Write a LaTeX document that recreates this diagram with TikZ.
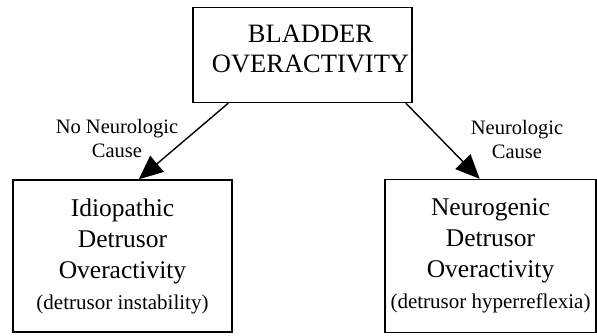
\documentclass[tikz,border=0pt]{standalone}
\usepackage{fontspec}
\setmainfont{Liberation Serif}
\usetikzlibrary{arrows.meta}
\begin{document}
\begin{tikzpicture}[>={Triangle[length=24pt,width=21pt]},x=1pt,y=1pt,line width=1.4pt,
		box/.style={draw,rectangle,align=center,inner sep=0pt},
		lbl/.style={align=center,font=\fontsize{20.5}{24}\selectfont}]
		\useasboundingbox (0,0) rectangle (597,335);
		\node [box,minimum width=219,minimum height=95] (Bladder) at (302.5,280) {};
		\node [align=center,font=\fontsize{26.5}{30}\selectfont]
			(BladderText) at ([shift={(8,6)}]Bladder.center) {BLADDER\\OVERACTIVITY};
		\node [box,minimum width=219,minimum height=152,font=\fontsize{25.5}{31}\selectfont]
			(Idio) at (122.5,79) {Idiopathic\\Detrusor\\Overactivity\\{\fontsize{21}{25}\selectfont (detrusor instability)}};
		\node [box,minimum width=211,minimum height=153,font=\fontsize{25.5}{31}\selectfont]
			(Neuro) at (490.5,79) {Neurogenic\\Detrusor\\Overactivity\\{\fontsize{21}{25}\selectfont (detrusor hyperreflexia)}};
		\draw [->] (Bladder.213) -- (Idio.78.5);
		\draw [->] (Bladder.-25) -- (Neuro.98);
		
		\path
		(117,197) node[lbl] (NoCause) {No Neurologic\\Cause}
		(517,196) node[lbl] (Cause) {Neurologic\\Cause};
\end{tikzpicture}
\end{document}
